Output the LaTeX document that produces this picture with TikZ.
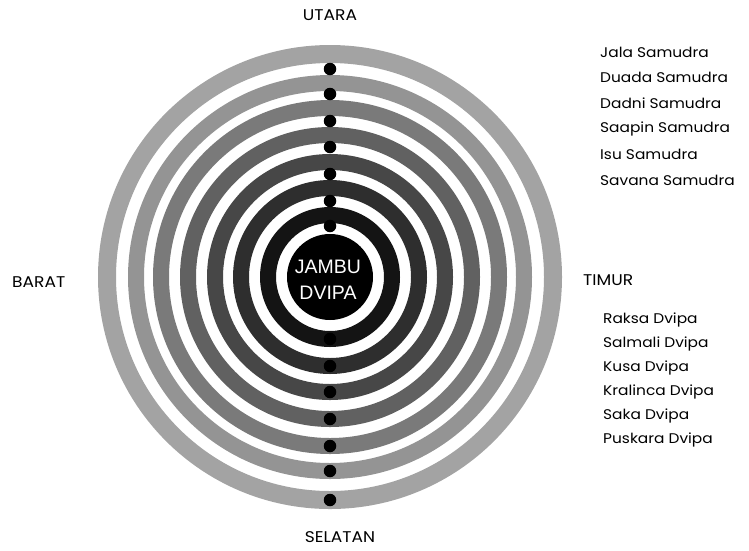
\documentclass[tikz,border=0pt]{standalone}
\usepackage{fontspec}
\setmainfont{Poppins}[FakeStretch=1.1]
\newfontfamily\jfont{Liberation Sans}
\begin{document}
\begin{tikzpicture}[x=1pt,y=-1pt,
  band/.style={even odd rule},
  bead/.style={circle,fill=black,inner sep=0pt,minimum size=12.5pt},
  lbl/.style={anchor=west,font=\fontsize{14}{16}\selectfont,inner sep=0pt},
  dir/.style={font=\fontsize{15.5}{18}\selectfont,inner sep=0pt}]
\useasboundingbox (0,0) rectangle (749,550);
\coordinate (c) at (330,277);
% rings (outer radius, inner radius, grey)
\foreach \ro/\ri/\g in {232/214/36, 202/186/42, 177/161/52, 150/134/62, 123/107/72, 97/81/82, 70/54/92}{
  \fill[black!\g,band] (c) circle (\ro) (c) circle (\ri);
}
\fill[black] (c) circle (43);
% beads on the north side (in bands)
\foreach \r [count=\i] in {223,194,169,142,115,89,62}{
  \node[bead] (n\i) at ([yshift=-\r]c) {};
}
% beads on the south side (in gaps)
\foreach \r [count=\i] in {51,76,103,130,156,183,208}{
  \node[bead] (s\i) at ([yshift=\r]c) {};
}
\node[font=\jfont\fontsize{19.5}{26}\selectfont,text=white,align=center,inner sep=0pt] (jambu) at (328,280) {JAMBU\\DVIPA};
% directions
\node[dir] (utara) at (330,15) {UTARA};
\node[dir] (selatan) at (340,537) {SELATAN};
\node[dir,anchor=west] (barat) at (12,282) {BARAT};
\node[dir,anchor=west] (timur) at (583,280) {TIMUR};
% seas
\node[lbl] (jala) at (600,52) {Jala Samudra};
\node[lbl] (duada) at (600,77.5) {Duada Samudra};
\node[lbl] (dadni) at (600,103) {Dadni Samudra};
\node[lbl] (saapin) at (600,129) {Saapin Samudra};
\node[lbl] (isu) at (600,154.5) {Isu Samudra};
\node[lbl] (savana) at (600,180) {Savana Samudra};
% islands
\node[lbl] (raksa) at (603,320) {Raksa Dvipa};
\node[lbl] (salmali) at (603,344) {Salmali Dvipa};
\node[lbl] (kusa) at (603,368) {Kusa Dvipa};
\node[lbl] (kralinca) at (603,392) {Kralinca Dvipa};
\node[lbl] (saka) at (603,416) {Saka Dvipa};
\node[lbl] (puskara) at (603,440) {Puskara Dvipa};
\end{tikzpicture}
\end{document}
